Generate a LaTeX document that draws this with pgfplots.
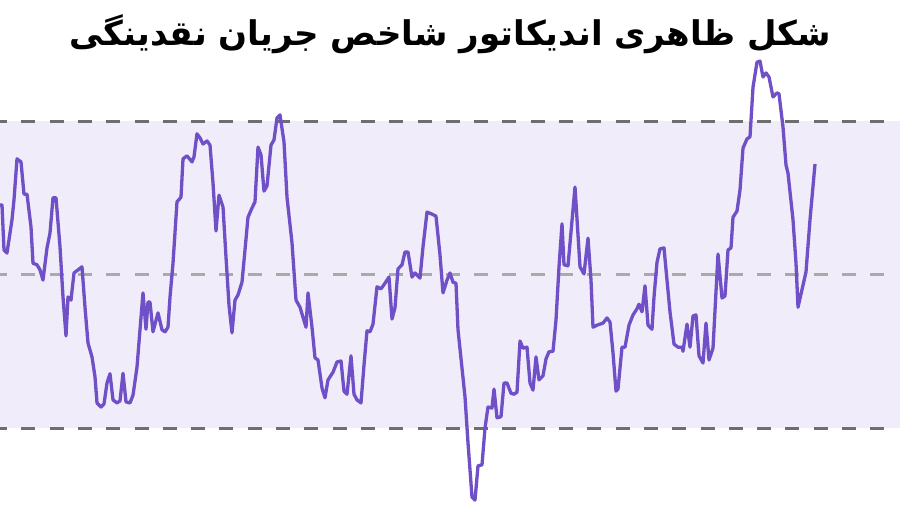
\documentclass[border=0pt]{standalone}
\usepackage{fontspec}
\usepackage{pgfplots}
\pgfplotsset{compat=1.18}
\TeXXeTstate=1
\newfontfamily\arabicfont[Script=Arabic]{DejaVu Sans}
\definecolor{mfiline}{HTML}{7050C6}
\definecolor{band}{HTML}{F0ECF9}
\definecolor{darkdash}{HTML}{6E6E6E}
\definecolor{lightdash}{HTML}{AAAAAA}
\begin{document}
\begin{tikzpicture}
\begin{axis}[
  scale only axis, width=900pt, height=506pt,
  xmin=0, xmax=900, ymin=4.76, ymax=103.65,
  hide axis, clip=true,
]
\path (rel axis cs:0,0) rectangle (rel axis cs:1,1);
\addplot[draw=none, fill=band] coordinates {(0,20) (900,20) (900,80) (0,80)} -- cycle;
\addplot[darkdash, line width=3pt, dash pattern=on 14pt off 14.3pt, dash phase=7pt] coordinates {(0,80) (893,80)};
\addplot[darkdash, line width=3pt, dash pattern=on 14pt off 14.3pt, dash phase=7pt] coordinates {(0,20) (893,20)};
\addplot[lightdash, line width=2.2pt, dash pattern=on 14pt off 14.3pt, dash phase=7pt] coordinates {(0,50) (893,50)};
\addplot[mfiline, line width=3.3pt, line join=round] coordinates {
(0,63.6)(2,63.6)(4,54.8)(7,54.2)(12,60.7)(14,64.6)(17,72.6)(21,72.0)(24,65.7)(27,65.7)
(31,59.3)(33,52.2)(37,51.9)(40,50.9)(43,48.9)(47,55.2)(50,58.1)(53,65.0)(56,65.0)(60,55.4)
(63,45.6)(66,38.0)(68,45.6)(71,45.0)(74,50.3)(78,50.9)(82,51.5)(85,43.6)(88,36.6)(92,33.9)
(95,30.0)(97,24.9)(101,24.1)(104,24.7)(107,28.8)(110,30.6)(113,25.5)(117,24.9)(120,25.3)(123,30.7)
(126,25.1)(130,24.9)(133,26.4)(137,31.9)(140,39.2)(143,46.4)(146,39.3)(148,44.6)(150,44.6)(153,38.8)
(158,42.5)(162,39.2)(165,38.8)(168,39.7)(170,45.6)(173,52.2)(177,64.2)(181,65.1)(183,72.6)(187,73.2)
(192,72.0)(194,73.0)(197,77.5)(200,76.7)(203,75.5)(207,76.1)(210,75.3)(213,67.9)(216,58.5)(219,65.5)
(223,63.2)(226,53.4)(229,44.0)(232,38.6)(235,45.0)(238,46.0)(242,48.5)(245,54.8)(248,61.2)(252,63.0)
(255,64.2)(258,74.9)(261,73.4)(264,66.3)(267,67.3)(271,75.3)(274,76.3)(277,80.6)(280,81.2)(284,75.9)
(287,65.1)(292,56.2)(296,45.0)(300,43.6)(306,39.7)(308,46.4)(312,39.7)(315,33.7)(318,33.3)(322,27.8)
(325,25.9)(328,29.4)(333,30.9)(337,32.9)(341,33.1)(344,27.2)(347,26.6)(351,34.1)(354,26.6)(357,25.5)
(361,24.9)(364,32.3)(367,39.0)(370,38.8)(373,40.3)(377,47.6)(381,47.2)(385,48.3)(389,49.5)(392,41.3)
(395,43.5)(398,51.1)(402,51.9)(405,54.4)(408,54.4)(412,49.5)(415,50.3)(420,49.3)(423,55.4)(427,62.2)
(432,61.8)(436,61.4)(440,53.8)(443,46.4)(447,48.9)(450,50.3)(453,48.5)(456,48.3)(458,39.2)(465,26.1)
(468,17.1)(472,6.5)(475,5.9)(478,12.6)(482,12.8)(485,20.0)(488,24.1)(492,23.9)(494,27.6)(497,22.0)
(501,22.2)(504,28.8)(507,28.8)(511,26.8)(514,26.6)(517,27.0)(520,37.0)(523,35.6)(527,35.8)(530,28.8)
(533,27.4)(536,33.9)(539,29.4)(543,30.2)(546,33.5)(549,34.9)(553,35.0)(556,41.1)(559,51.5)(562,59.9)
(564,51.9)(568,51.7)(575,67.1)(580,51.5)(584,50.1)(588,57.1)(591,48.9)(593,39.7)(597,40.1)(600,40.3)
(603,40.5)(607,41.5)(610,40.7)(613,34.7)(616,27.2)(618,27.6)(622,35.8)(625,35.8)(629,40.1)(633,42.1)
(637,43.3)(639,44.2)(642,42.7)(645,47.8)(648,40.1)(652,39.3)(654,45.6)(657,52.4)(660,55.0)(664,55.2)
(667,48.9)(670,42.7)(674,36.4)(678,35.8)(682,35.8)(683,35.0)(687,40.3)(690,35.8)(693,41.9)(696,42.1)
(699,34.1)(703,32.7)(706,40.5)(709,33.3)(713,35.6)(718,54.0)(722,45.4)(725,45.8)(728,54.8)(731,55.2)
(733,61.2)(737,62.4)(740,66.5)(743,74.7)(747,76.5)(750,76.9)(753,86.6)(757,91.5)(760,91.7)(763,88.6)
(766,89.4)(769,88.6)(773,84.7)(777,85.5)(779,85.3)(783,78.8)(786,71.4)(788,69.8)(793,60.7)(796,52.2)
(798,43.6)(806,50.5)(810,60.7)(815,71.6)
};
\node[anchor=center, font=\arabicfont\bfseries\fontsize{34}{40}\selectfont] at (axis cs:450,97.0) {\beginR شکل ظاهری اندیکاتور شاخص جریان نقدینگی\endR};
\end{axis}
\end{tikzpicture}
\end{document}
